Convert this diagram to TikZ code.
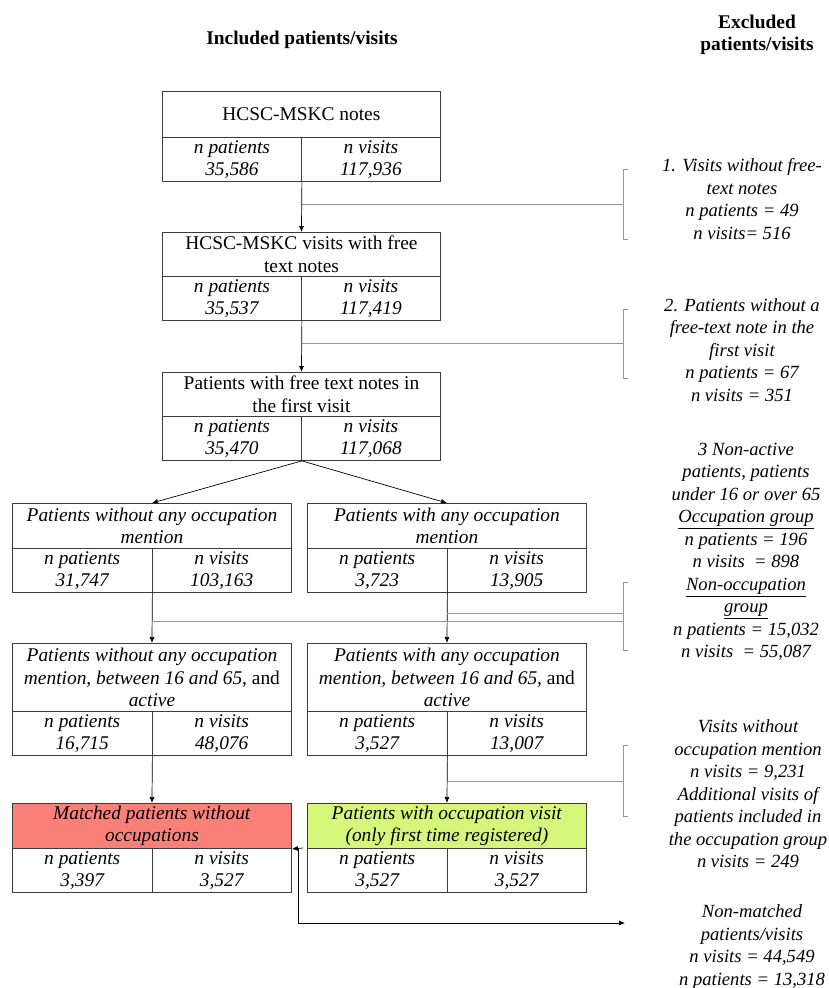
\documentclass[tikz,border=0pt]{standalone}
\usepackage{fontspec}
\setmainfont{Liberation Serif}
\usepackage{tikz}
\usetikzlibrary{arrows.meta,positioning}
\definecolor{boxgray}{RGB}{60,60,60}
\definecolor{linegray}{RGB}{150,150,150}
\definecolor{myred}{RGB}{250,128,120}
\definecolor{mygreen}{RGB}{214,246,122}
\newcommand{\boxfont}{\fontsize{19.4}{22.5}\selectfont}
\newcommand{\exfont}{\fontsize{18.6}{22.5}\selectfont}
\tikzstyle{arrow} = [-{Latex[length=6pt,width=5pt]},line width=0.7pt]
\tikzstyle{exline} = [color=linegray,line width=0.8pt]
\tikzstyle{bracket} = [color=linegray,line width=0.8pt]
\tikzstyle{headbox} = [draw=boxgray,line width=0.9pt,anchor=north west,align=center,inner sep=0pt,font=\boxfont]
\tikzstyle{cellbox} = [draw=boxgray,line width=0.9pt,anchor=north west,align=center,inner sep=0pt,minimum height=44pt,font=\boxfont\itshape]
\tikzstyle{extext} = [align=center,inner sep=0pt,font=\exfont\itshape]

\begin{document}
\begin{tikzpicture}[x=1pt,y=-1pt]
            \useasboundingbox (0,0) rectangle (828,988);
            % Headers
            \node[font=\boxfont\bfseries] (inc) at (302,40) {Included patients/visits};
            \node[font=\boxfont\bfseries,align=center] (exc) at (757,35) {Excluded\\patients/visits};
            % Included
            \node[headbox,minimum width=278pt,minimum height=46pt] (b1) at (162,91) {HCSC-MSKC notes};
            \node[cellbox,minimum width=139pt] (b1p) at (162,137) {n patients\\35,586};
            \node[cellbox,minimum width=139pt] (b1v) at (301,137) {n visits\\117,936};
            \node[headbox,minimum width=278pt,minimum height=44pt] (b2) at (162,232) {HCSC-MSKC visits with free\\text notes};
            \node[cellbox,minimum width=139pt] (b2p) at (162,276) {n patients\\35,537};
            \node[cellbox,minimum width=139pt] (b2v) at (301,276) {n visits\\117,419};
            \node[headbox,minimum width=278pt,minimum height=44pt] (b3) at (162,372) {Patients with free text notes in\\the first visit};
            \node[cellbox,minimum width=139pt] (b3p) at (162,416) {n patients\\35,470};
            \node[cellbox,minimum width=139pt] (b3v) at (301,416) {n visits\\117,068};
            \node[headbox,minimum width=279pt,minimum height=45pt] (b4l) at (12,503) {\textit{Patients without any occupation}\\\textit{mention}};
            \node[cellbox,minimum width=139.5pt] (b4lp) at (12,548) {n patients\\31,747};
            \node[cellbox,minimum width=139.5pt] (b4lv) at (151.5,548) {n visits\\103,163};
            \node[headbox,minimum width=279pt,minimum height=45pt] (b4r) at (307,503) {\textit{Patients with any occupation}\\\textit{mention}};
            \node[cellbox,minimum width=139.5pt] (b4rp) at (307,548) {n patients\\3,723};
            \node[cellbox,minimum width=139.5pt] (b4rv) at (446.5,548) {n visits\\13,905};
            \node[headbox,minimum width=279pt,minimum height=68pt] (b5l) at (12,643) {\textit{Patients without any occupation}\\\textit{mention, between 16 and 65,} and\\\textit{active}};
            \node[cellbox,minimum width=139.5pt] (b5lp) at (12,711) {n patients\\16,715};
            \node[cellbox,minimum width=139.5pt] (b5lv) at (151.5,711) {n visits\\48,076};
            \node[headbox,minimum width=279pt,minimum height=68pt] (b5r) at (307,643) {\textit{Patients with any occupation}\\\textit{mention, between 16 and 65,} and\\\textit{active}};
            \node[cellbox,minimum width=139.5pt] (b5rp) at (307,711) {n patients\\3,527};
            \node[cellbox,minimum width=139.5pt] (b5rv) at (446.5,711) {n visits\\13,007};
            \node[headbox,fill=myred,minimum width=279pt,minimum height=45pt] (b6l) at (12,803) {\textit{Matched patients without}\\\textit{occupations}};
            \node[cellbox,minimum width=139.5pt] (b6lp) at (12,848) {n patients\\3,397};
            \node[cellbox,minimum width=139.5pt] (b6lv) at (151.5,848) {n visits\\3,527};
            \node[headbox,fill=mygreen,minimum width=279pt,minimum height=45pt] (b6r) at (307,803) {\textit{Patients with occupation visit}\\\textit{(only first time registered)}};
            \node[cellbox,minimum width=139.5pt] (b6rp) at (307,848) {n patients\\3,527};
            \node[cellbox,minimum width=139.5pt] (b6rv) at (446.5,848) {n visits\\3,527};
            % Excluded
            \node[extext] (ex1) at (742,199) {1. Visits without free-\\text notes\\n patients = 49\\n visits= 516};
            \node[extext] (ex2) at (742,350) {2. Patients without a\\free-text note in the\\first visit\\n patients = 67\\n visits = 351};
            \node[extext] (ex3) at (746,552) {3 Non-active\\patients, patients\\under 16 or over 65\\\underline{Occupation group}\\n patients = 196\\n visits\ \ = 898\\\underline{Non-occupation}\\\underline{group}\\n patients = 15,032\\n visits\ \ = 55,087};
            \node[extext] (ex4) at (748,794) {Visits without\\occupation mention\\n visits = 9,231\\Additional visits of\\patients included in\\the occupation group\\n visits = 249};
            \node[extext] (ex5) at (752,947) {Non-matched\\patients/visits\\n visits = 44,549\\n patients = 13,318};
            % flow
            \draw[arrow] (b1p.south east) -- (b2.north);
            \draw[arrow] (b2p.south east) -- (b3.north);
            \draw[arrow] (b3p.south east) -- (b4l.north);
            \draw[arrow] (b3p.south east) -- (b4r.north);
            \draw[arrow] (b4lp.south east) -- (b5l.north);
            \draw[arrow] (b4rp.south east) -- (b5r.north);
            \draw[arrow] (b5lp.south east) -- (b6l.north);
            \draw[arrow] (b5rp.south east) -- (b6r.north);
            % exclusions
            \coordinate (k1) at (623,204);
            \coordinate (k2) at (623,343);
            \coordinate (k3a) at (623,613);
            \coordinate (k3b) at (623,621);
            \coordinate (k4) at (623,781);
            \draw[exline] (b1p.south east |- k1) -- (k1);
            \draw[exline] (b2p.south east |- k2) -- (k2);
            \draw[exline] (b4rp.south east |- k3a) -- (k3a);
            \draw[exline] (b4lp.south east |- k3b) -- (k3b);
            \draw[exline] (b5rp.south east |- k4) -- (k4);
            \draw[bracket] (628,169) -- (623,169) -- (623,239) -- (628,239);
            \draw[bracket] (628,309) -- (623,309) -- (623,378) -- (628,378);
            \draw[bracket] (628,582) -- (623,582) -- (623,650) -- (628,650);
            \draw[bracket] (628,745) -- (623,745) -- (623,816) -- (628,816);
            % matching
            \coordinate (m1) at (303,848);
            \coordinate (m2) at (298,848);
            \coordinate (m3) at (625,923);
            \draw[arrow] (m1) -- (b6l.south east);
            \draw[arrow] (m2) |- (m3);
\end{tikzpicture}
\end{document}
